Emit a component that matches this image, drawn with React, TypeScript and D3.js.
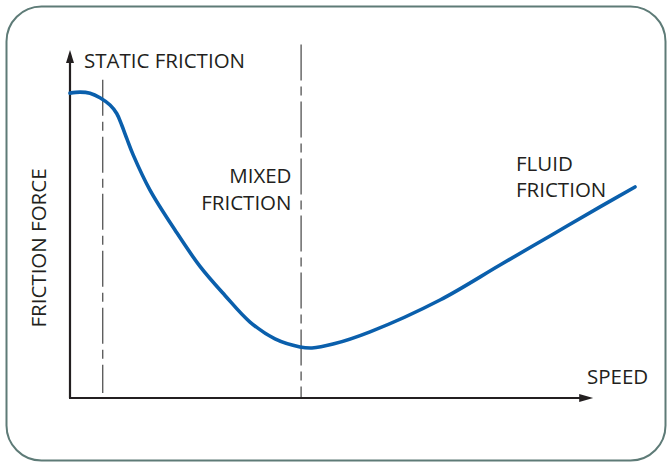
import React from "react";
import * as d3 from "d3";

// Stribeck-type friction curve (arbitrary units)
const speed = [0, 0.177, 0.354, 0.531, 0.708, 0.827, 0.915, 1.004, 1.12, 1.416, 1.858, 2.301, 2.743, 3.186, 3.628, 4.071, 4.283, 4.655, 5.31, 6.549, 7.611, 8.496, 9.381, 10.0];
const force = [8.71, 8.74, 8.71, 8.58, 8.37, 8.13, 7.8, 7.42, 6.94, 5.94, 4.8, 3.76, 2.93, 2.17, 1.69, 1.46, 1.43, 1.54, 1.89, 2.8, 3.8, 4.63, 5.46, 6.03];

// regime boundaries (speed) and their vertical extents (force)
const boundarySpeed = [0.58, 4.09];
const boundaryTop = [9.09, 10.1];
const boundaryBottom = [0.14, 0];

const axisMax = { x: 9.26, y: 10.0 };

const labels = {
  static: ["STATIC FRICTION"],
  mixed: ["MIXED", "FRICTION"],
  fluid: ["FLUID", "FRICTION"],
  xTitle: "SPEED",
  yTitle: "FRICTION FORCE",
};

const W = 667;
const H = 462;

export default function App() {
  const x = d3.scaleLinear().domain([0, 10]).range([70, 635]);
  const y = d3.scaleLinear().domain([0, 10]).range([398, 48]);

  const pts = speed.map((s, i) => [s, force[i]] as [number, number]);
  const line = d3
    .line<[number, number]>()
    .x((d) => x(d[0]))
    .y((d) => y(d[1]))
    .curve(d3.curveCatmullRom.alpha(0.5));

  const x0 = x(0);
  const y0 = y(0);
  const xEnd = x(axisMax.x);
  const yEnd = y(axisMax.y) + 2;
  const ink = "#231f20";
  const font = "'Open Sans', sans-serif";

  return (
    <svg
      width={W}
      height={H}
      style={{ position: "absolute", left: 0, top: 0, background: "#fff" }}
    >
      <rect x={6.5} y={6.5} width={659} height={454} rx={35} ry={35} fill="#fff" stroke="#5e7b77" strokeWidth={2} />

      {/* regime boundary lines */}
      {boundarySpeed.map((s, i) => (
        <line
          key={i}
          x1={x(s)}
          x2={x(s)}
          y1={y(boundaryTop[i])}
          y2={y(boundaryBottom[i])}
          stroke="#333"
          strokeWidth={1.1}
          strokeDasharray="36,6,9,6"
        />
      ))}

      {/* axes */}
      <line x1={x0} y1={y0} x2={x0} y2={yEnd + 10} stroke={ink} strokeWidth={2.2} />
      <path d={`M${x0},${yEnd} L${x0 - 4},${yEnd + 13} L${x0 + 4},${yEnd + 13} Z`} fill={ink} />
      <line x1={x0 - 1} y1={y0} x2={xEnd - 10} y2={y0} stroke={ink} strokeWidth={2.2} />
      <path d={`M${xEnd},${y0} L${xEnd - 14},${y0 - 4} L${xEnd - 14},${y0 + 4} Z`} fill={ink} />

      {/* curve */}
      <path d={line(pts) || ""} fill="none" stroke="#0a5fac" strokeWidth={3.6} strokeLinecap="round" />

      {/* labels */}
      <g fontFamily={font} fontSize={20.5} fill={ink}>
        <text x={84} y={68}>{labels.static[0]}</text>
        <text x={291.5} y={183} textAnchor="end">{labels.mixed[0]}</text>
        <text x={291.5} y={209.5} textAnchor="end">{labels.mixed[1]}</text>
        <text x={516} y={171}>{labels.fluid[0]}</text>
        <text x={516} y={197}>{labels.fluid[1]}</text>
        <text x={587} y={384}>{labels.xTitle}</text>
        <text transform="translate(46,248) rotate(-90)" textAnchor="middle">{labels.yTitle}</text>
      </g>
    </svg>
  );
}
